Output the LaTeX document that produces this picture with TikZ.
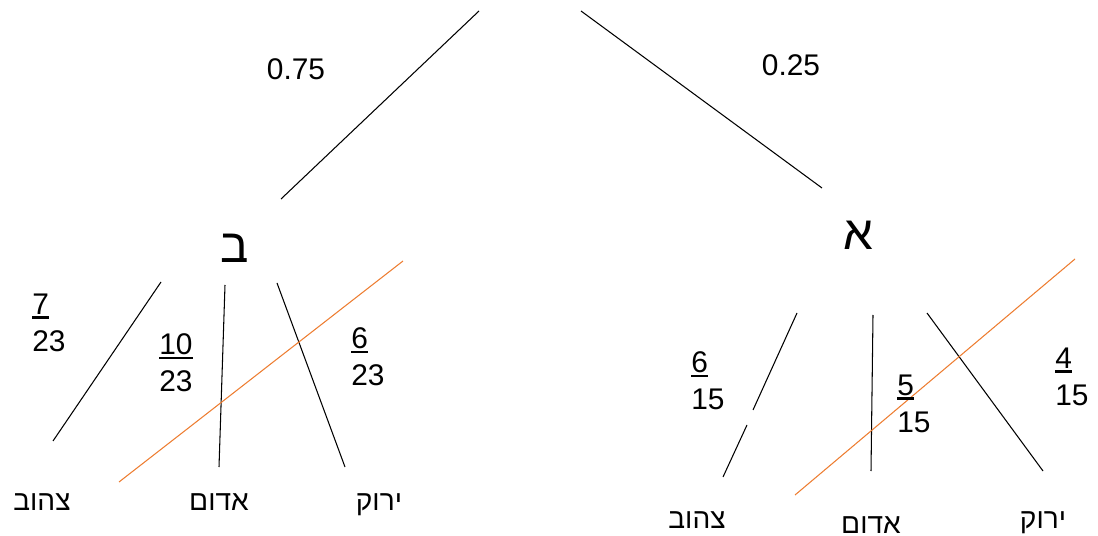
\documentclass[tikz,border=0pt]{standalone}
\usepackage{fontspec}
\setmainfont{Liberation Sans}
\newfontfamily\hebfont[Script=Hebrew]{Liberation Sans}
\TeXXeTstate=1
\usetikzlibrary{positioning}
\definecolor{TreeOrange}{HTML}{ED7D31}
\newcommand{\heb}[1]{{\hebfont\beginR #1\endR}}
\newcommand{\numline}[1]{\leavevmode\vtop{\hbox{#1}\kern0.8pt\hrule height 1.6pt}}
\tikzset{
  branch/.style={line width=0.6pt, draw=black},
  cut/.style={line width=0.6pt, draw=TreeOrange},
  prob/.style={font=\fontsize{17}{21}\selectfont, inner sep=0pt, align=left, anchor=west},
  weight/.style={font=\fontsize{17}{21}\selectfont, inner sep=0pt, anchor=base},
  colour/.style={font=\fontsize{16}{19}\selectfont\hebfont, inner sep=0pt, anchor=base},
  urn/.style={font=\fontsize{27}{31}\selectfont\hebfont, inner sep=0pt, anchor=base},
}

\begin{document}
\begin{tikzpicture}[x=0.02cm,y=-0.02cm]
    \useasboundingbox (0,0) rectangle (1098,536);
    % first stage
    \coordinate (rootL) at (479,11);
    \coordinate (rootR) at (581,11);
    \coordinate (endB) at (281,199);
    \coordinate (endA) at (822,188);
    \draw[branch] (rootL) -- (endB);
    \draw[branch] (rootR) -- (endA);
    \node[weight] (pB) at (296,80) {0.75};
    \node[weight] (pA) at (791,76) {0.25};
    \node[urn] (urnB) at (235,263) {\heb{ב}};
    \node[urn] (urnA) at (858,250) {\heb{א}};
    % urn b
    \coordinate (b1top) at (161,282);
    \coordinate (b1end) at (53,441);
    \coordinate (b2top) at (225,285);
    \coordinate (b2end) at (219,467);
    \coordinate (b3top) at (277,283);
    \coordinate (b3end) at (345,467);
    \coordinate (bcutA) at (403,261);
    \coordinate (bcutB) at (119,482);
    \draw[branch] (b1top) -- (b1end);
    \draw[branch] (b2top) -- (b2end);
    \draw[branch] (b3top) -- (b3end);
    \draw[cut] (bcutA) -- (bcutB);
    \node[prob] (qB1) at (32,323) {\numline{7}\\23};
    \node[prob] (qB2) at (159,363) {\numline{10}\\23};
    \node[prob] (qB3) at (351,357) {\numline{6}\\23};
    \node[colour] (yellowB) at (42,510) {\heb{צהוב}};
    \node[colour] (redB) at (219,510) {\heb{אדום}};
    \node[colour] (greenB) at (379,510) {\heb{ירוק}};
    % urn a
    \coordinate (a1top) at (797,313);
    \coordinate (a1gap) at (753,410);
    \coordinate (a1mid) at (747,425);
    \coordinate (a1end) at (723,477);
    \coordinate (a2top) at (873,315);
    \coordinate (a2end) at (871,471);
    \coordinate (a3top) at (927,313);
    \coordinate (a3end) at (1043,471);
    \coordinate (acutA) at (1075,259);
    \coordinate (acutB) at (795,495);
    \draw[branch] (a1top) -- (a1gap);
    \draw[branch] (a1mid) -- (a1end);
    \draw[branch] (a2top) -- (a2end);
    \draw[branch] (a3top) -- (a3end);
    \draw[cut] (acutA) -- (acutB);
    \node[prob] (qA1) at (691,381) {\numline{6}\\15};
    \node[prob] (qA2) at (897,404) {\numline{5}\\15};
    \node[prob] (qA3) at (1055,377) {\numline{4}\\15};
    \node[colour] (yellowA) at (697,528) {\heb{צהוב}};
    \node[colour] (redA) at (871,533) {\heb{אדום}};
    \node[colour] (greenA) at (1043,528) {\heb{ירוק}};
\end{tikzpicture}
\end{document}
